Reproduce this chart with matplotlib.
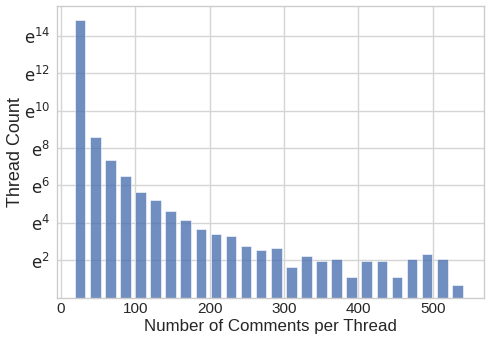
import numpy as np
import matplotlib
matplotlib.use("Agg")
import matplotlib.pyplot as plt
import seaborn as sns

# Bin centres (comments per thread) and thread counts (plotted on log base e)
bin_centers = [25.6, 45.9, 66.2, 86.5, 106.8, 127.1, 147.4, 167.7, 188.0, 208.3,
               228.6, 248.9, 269.2, 289.5, 309.8, 330.1, 350.4, 370.7, 391.0, 411.3,
               431.6, 451.9, 472.2, 492.5, 512.8, 533.1]
thread_counts = [2760000, 5320, 1570, 665, 279, 187, 100, 62, 40, 30,
                 27, 16, 13, 14, 5, 9, 7, 8, 3, 7,
                 7, 3, 8, 10, 8, 2]
ytick_exps = [2, 4, 6, 8, 10, 12, 14]
xticks = [0, 100, 200, 300, 400, 500]

sns.set_theme(style="whitegrid")
plt.rcParams['font.family'] = ['Liberation Sans', 'DejaVu Sans']
plt.rcParams['mathtext.fontset'] = 'dejavusans'

fig = plt.figure(figsize=(4.9, 3.42), dpi=100)
ax = fig.add_axes([57/490, 1-297.5/342, (484-57)/490, (297.5-6)/342])

ax.bar(bin_centers, thread_counts, width=14.3, bottom=0, color='#4C72B0', alpha=0.8,
       edgecolor='white', linewidth=0.5)
ax.set_yscale('log', base=np.e)
ax.set_ylim(1, np.e**15.6)
ax.set_xlim(-5.5, 569)
ax.set_yticks([np.e**k for k in ytick_exps])
ax.set_yticklabels([r'$\mathrm{e}^{%d}$' % k for k in ytick_exps])
ax.minorticks_off()
ax.set_xticks(xticks)
ax.tick_params(axis='x', labelsize=11, colors='#262626', pad=3.5, length=0)
ax.tick_params(axis='y', labelsize=12, colors='#262626', pad=5, length=0)
ax.set_xlabel('Number of Comments per Thread', fontsize=12.2, color='#262626', labelpad=2)
ax.set_ylabel('Thread Count', fontsize=13, color='#262626')
ax.yaxis.set_label_coords(-0.078, 0.5)
for s in ax.spines.values():
    s.set_color('#cccccc')
    s.set_linewidth(1.0)
ax.grid(True, color='#d5d5d5', linewidth=1.0)
ax.set_axisbelow(True)

fig.savefig('out.png', dpi=100)
